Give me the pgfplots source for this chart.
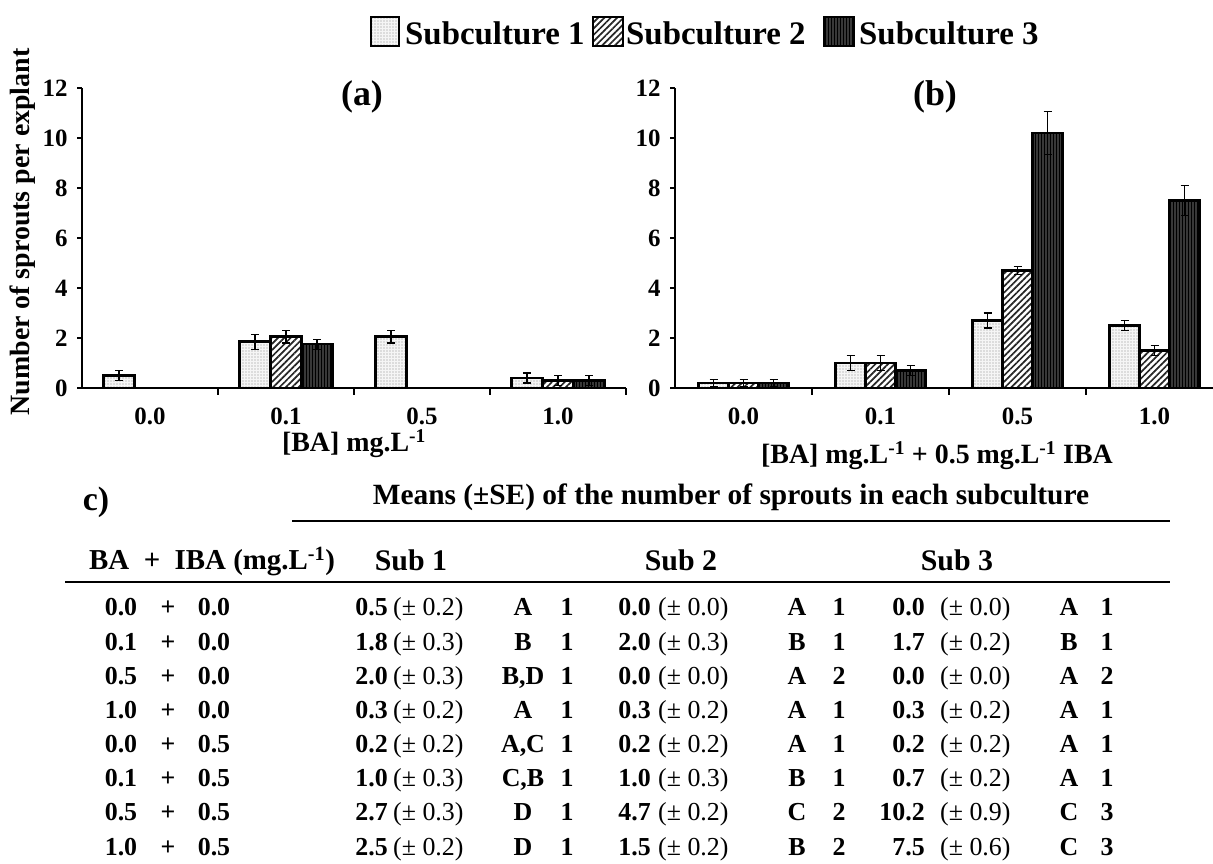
\documentclass[border=0pt]{standalone}
\usepackage{fontspec}
\setmainfont{Liberation Serif}
\usepackage{pgfplots}
\pgfplotsset{compat=1.18}
\usetikzlibrary{patterns.meta}
\newcommand\fs[1]{\fontsize{#1}{#1}\selectfont}
\tikzset{
  s1/.style={draw=black, line width=2.5bp, preaction={fill=black!4}, pattern={Dots[distance=3bp, radius=0.55bp]}, pattern color=black!45},
  s2/.style={draw=black, line width=2.5bp, preaction={fill=white}, pattern={Lines[angle=45, distance=4.5bp, line width=1.7bp]}, pattern color=black!85},
  s3/.style={draw=black, line width=2.5bp, preaction={fill=black!78}, pattern={Lines[angle=90, distance=3bp, line width=0.8bp]}, pattern color=black},
}
\pgfplotsset{
  panel/.style={
    scale only axis, height=300bp, ymin=0, ymax=12, xmin=-0.5,
    axis lines*=left, axis line style={line width=2.5bp, black},
    ybar=0pt, bar width=30bp,
    ytick={0,2,...,12}, xtick={0,1,2,3}, xticklabels={0.0,0.1,0.5,1.0},
    tick align=outside, major tick length=5bp, minor tick length=7bp,
    major x tick style={draw=none},
    ytick style={line width=1.5bp, black},
    minor x tick style={line width=1.5bp, black},
    /pgf/number format/assume math mode=true,
    tick label style={font=\bfseries\fs{25}},
    yticklabel style={font=\bfseries\fs{25}, xshift=-6bp},
    xticklabel style={font=\bfseries\fs{25}, yshift=-11bp},
  },
  errs/.style={error bars/.cd, y dir=both, y explicit,
    error bar style={line width=1.2bp, black},
    error mark options={rotate=90, line width=1.2bp, mark size=4bp, black}},
}
\newcommand\tcell[9]{%
  \node[anchor=base east, font=\bfseries\fs{26}] at (#2,#1) {#6};
  \node[anchor=base west, font=\fs{26}] at (#3,#1) {(± #7)};
  \node[anchor=base, font=\bfseries\fs{26}] at (#4,#1) {#8};
  \node[anchor=base, font=\bfseries\fs{26}] at (#5,#1) {#9};}
\newcommand\tba[3]{%
  \node[anchor=base, font=\bfseries\fs{26}] at (121,#1) {#2};
  \node[anchor=base, font=\bfseries\fs{26}] at (168,#1) {+};
  \node[anchor=base, font=\bfseries\fs{26}] at (214,#1) {#3};}
\newcommand\tsa[5]{\tcell{#1}{388}{393}{523}{567}{#2}{#3}{#4}{#5}}
\newcommand\tsb[5]{\tcell{#1}{651}{658}{797}{839}{#2}{#3}{#4}{#5}}
\newcommand\tsc[5]{\tcell{#1}{925}{940}{1069}{1107}{#2}{#3}{#4}{#5}}

\begin{document}
\begin{tikzpicture}
\useasboundingbox (0,0) rectangle (1213bp,864bp);

% ---------- panel (a)
\begin{axis}[panel, at={(82bp,476bp)}, anchor=south west, width=544bp,
  xmax=3.5, minor xtick={0.5,1.5,2.5,3.5}, bar width=31bp]
\addplot[s1, errs] coordinates {(0,0.5) +- (0,0.2) (1,1.85) +- (0,0.3) (2,2.05) +- (0,0.25) (3,0.4) +- (0,0.2)};
\addplot[s2, errs] coordinates {(1,2.05) +- (0,0.25) (3,0.3) +- (0,0.2)};
\addplot[s3, errs] coordinates {(1,1.75) +- (0,0.2) (3,0.3) +- (0,0.2)};
\end{axis}

% ---------- panel (b)
\begin{axis}[panel, at={(675bp,476bp)}, anchor=south west, width=538bp,
  xmax=3.427, minor xtick={0.5,1.5,2.5}]
\addplot[s1, errs] coordinates {(0,0.2) +- (0,0.15) (1,1.0) +- (0,0.3) (2,2.7) +- (0,0.3) (3,2.5) +- (0,0.2)};
\addplot[s2, errs] coordinates {(0,0.2) +- (0,0.15) (1,1.0) +- (0,0.3) (2,4.7) +- (0,0.15) (3,1.5) +- (0,0.2)};
\addplot[s3, errs] coordinates {(0,0.2) +- (0,0.15) (1,0.7) +- (0,0.2) (2,10.2) +- (0,0.85) (3,7.5) +- (0,0.6)};
\end{axis}

\begin{scope}[x=1bp, y=-1bp, yshift=864bp, every node/.style={inner sep=0pt}]
% legend
\draw[s1] (371,17) rectangle (399,46);
\node[anchor=base west, font=\bfseries\fs{33}] at (405,45) {Subculture 1};
\draw[s2] (593,17) rectangle (623,46);
\node[anchor=base west, font=\bfseries\fs{33}] at (626,45) {Subculture 2};
\draw[s3] (824,17) rectangle (854,46);
\node[anchor=base west, font=\bfseries\fs{33}] at (859,45) {Subculture 3};
% titles and labels
\node[font=\bfseries\fs{36}] at (362,97) {(a)};
\node[font=\bfseries\fs{36}] at (935,97) {(b)};
\node[rotate=90, font=\bfseries\fs{28}] at (23,232) {Number of sprouts per explant};
\node[anchor=base, font=\bfseries\fs{28}] at (354,452) {[BA] mg.L\textsuperscript{-1}};
\node[anchor=base, font=\bfseries\fs{28}] at (937,464) {[BA] mg.L\textsuperscript{-1} + 0.5 mg.L\textsuperscript{-1} IBA};
% table
\node[font=\bfseries\fs{34}] at (96,502) {c)};
\node[font=\bfseries\fs{29.5}] at (731,497) {Means (±SE) of the number of sprouts in each subculture};
\draw[line width=2.5bp] (292,521) -- (1170,521);
\node[anchor=base west, font=\bfseries\fs{29}] at (89,570) {BA\ \ +\ \ IBA (mg.L\textsuperscript{-1})};
\node[anchor=base, font=\bfseries\fs{30}] at (411,571) {Sub 1};
\node[anchor=base, font=\bfseries\fs{30}] at (681,571) {Sub 2};
\node[anchor=base, font=\bfseries\fs{30}] at (957,571) {Sub 3};
\draw[line width=2.5bp] (65,582) -- (1170,582);
\tba{616}{0.0}{0.0}\tsa{616}{0.5}{0.2}{A}{1}\tsb{616}{0.0}{0.0}{A}{1}\tsc{616}{0.0}{0.0}{A}{1}
\tba{651}{0.1}{0.0}\tsa{651}{1.8}{0.3}{B}{1}\tsb{651}{2.0}{0.3}{B}{1}\tsc{651}{1.7}{0.2}{B}{1}
\tba{685}{0.5}{0.0}\tsa{685}{2.0}{0.3}{B,D}{1}\tsb{685}{0.0}{0.0}{A}{2}\tsc{685}{0.0}{0.0}{A}{2}
\tba{719}{1.0}{0.0}\tsa{719}{0.3}{0.2}{A}{1}\tsb{719}{0.3}{0.2}{A}{1}\tsc{719}{0.3}{0.2}{A}{1}
\tba{753}{0.0}{0.5}\tsa{753}{0.2}{0.2}{A,C}{1}\tsb{753}{0.2}{0.2}{A}{1}\tsc{753}{0.2}{0.2}{A}{1}
\tba{787}{0.1}{0.5}\tsa{787}{1.0}{0.3}{C,B}{1}\tsb{787}{1.0}{0.3}{B}{1}\tsc{787}{0.7}{0.2}{A}{1}
\tba{821}{0.5}{0.5}\tsa{821}{2.7}{0.3}{D}{1}\tsb{821}{4.7}{0.2}{C}{2}\tsc{821}{10.2}{0.9}{C}{3}
\tba{856}{1.0}{0.5}\tsa{856}{2.5}{0.2}{D}{1}\tsb{856}{1.5}{0.2}{B}{2}\tsc{856}{7.5}{0.6}{C}{3}
\end{scope}
\end{tikzpicture}
\end{document}
